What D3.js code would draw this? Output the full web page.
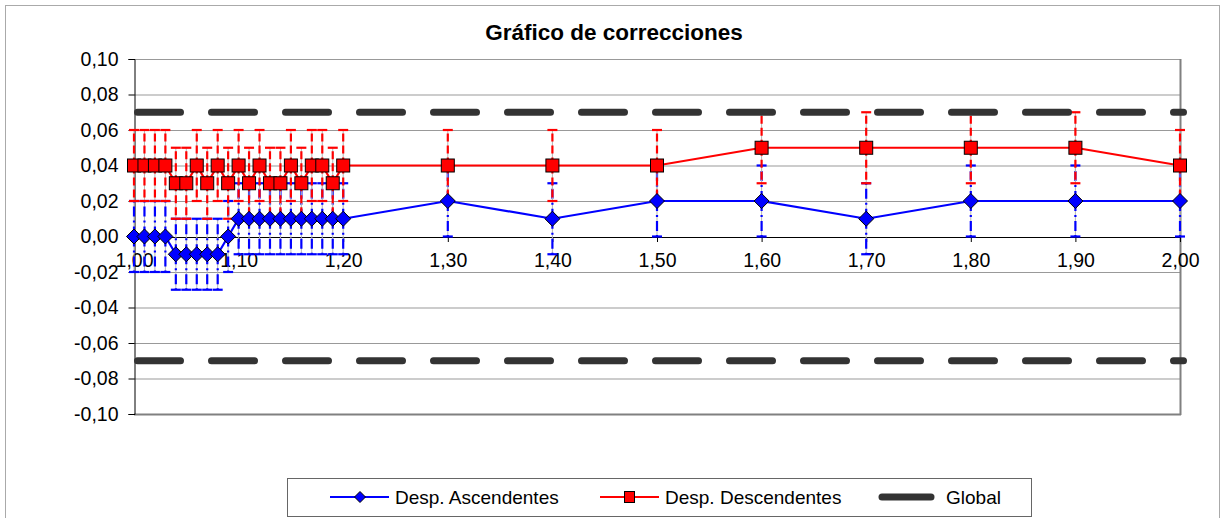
<!DOCTYPE html>
<html><head><meta charset="utf-8">
<script src="https://cdn.jsdelivr.net/npm/d3@7"></script>
<style>body{margin:0;background:#fff;font-family:"Liberation Sans",Arial,sans-serif;}</style>
</head><body><svg id="c" width="1221" height="518"></svg>
<script>
const xValues = [1.00,1.01,1.02,1.03,1.04,1.05,1.06,1.07,1.08,1.09,1.10,1.11,1.12,1.13,1.14,1.15,1.16,1.17,1.18,1.19,1.20,1.30,1.40,1.50,1.60,1.70,1.80,1.90,2.00];
const ascendentes = [0,0,0,0,-0.01,-0.01,-0.01,-0.01,-0.01,0,0.01,0.01,0.01,0.01,0.01,0.01,0.01,0.01,0.01,0.01,0.01,0.02,0.01,0.02,0.02,0.01,0.02,0.02,0.02];
const descendentes = [0.04,0.04,0.04,0.04,0.03,0.03,0.04,0.03,0.04,0.03,0.04,0.03,0.04,0.03,0.03,0.04,0.03,0.04,0.04,0.03,0.04,0.04,0.04,0.04,0.05,0.05,0.05,0.05,0.04];
const errorAmount = [0.02];
const globalX = [1.00, 2.00];
const globalLimits = [0.07, -0.07];
const xTicks = [1.0,1.1,1.2,1.3,1.4,1.5,1.6,1.7,1.8,1.9,2.0];
const yTicks = [-0.10,-0.08,-0.06,-0.04,-0.02,0,0.02,0.04,0.06,0.08,0.10];
const seriesNames = ["Desp. Ascendentes","Desp. Descendentes","Global"];
const title = "Gráfico de correcciones";

const svg = d3.select("#c");
const L=134, R=1180, T=59, B=414;
const x = d3.scaleLinear().domain([1,2]).range([L,R]);
const y = d3.scaleLinear().domain([-0.1,0.1]).range([B,T]);
const fmt = v => d3.format(".2f")(v).replace(".",",").replace("−","-");
const font = "'Liberation Sans', Arial, sans-serif";
const fs = 19.5;

// outer border
svg.append("rect").attr("x",5.5).attr("y",5.5).attr("width",1214).attr("height",520)
  .attr("fill","none").attr("stroke","#aaa").attr("stroke-width",1);

// title
svg.append("text").attr("x",614).attr("y",40).attr("text-anchor","middle")
  .attr("font-family",font).attr("font-weight","bold").attr("font-size",22.5).text(title);

// gridlines
svg.append("g").selectAll("line").data(yTicks.filter(d=>d!==0)).join("line")
  .attr("x1",L).attr("x2",R).attr("y1",d=>y(d)+0.5).attr("y2",d=>y(d)+0.5)
  .attr("stroke","#999").attr("stroke-width",1);
// plot border right & bottom
svg.append("line").attr("x1",R+0.5).attr("x2",R+0.5).attr("y1",T).attr("y2",B+1).attr("stroke","#808080").attr("stroke-width",2);
svg.append("line").attr("x1",L).attr("x2",R+1).attr("y1",B+0.5).attr("y2",B+0.5).attr("stroke","#808080").attr("stroke-width",2);

// y axis
const yAxis = d3.axisLeft(y).tickValues(yTicks).tickFormat(fmt).tickSize(6).tickPadding(10);
const gy = svg.append("g").attr("transform",`translate(${L+0.5},0)`).call(yAxis);
gy.select(".domain").attr("stroke","#000");
gy.selectAll("text").attr("font-family",font).attr("font-size",fs).attr("fill","#000");
// x axis at zero
const xAxis = d3.axisBottom(x).tickValues(xTicks).tickFormat(fmt).tickSize(5).tickPadding(11).tickSizeOuter(0);
const gx = svg.append("g").attr("transform",`translate(0,${y(0)+0.5})`).call(xAxis);
gx.select(".domain").attr("stroke","#000");
gx.selectAll("text").attr("font-family",font).attr("font-size",fs).attr("fill","#000");

const err = errorAmount[0];
function errorBars(vals, color, dash){
  const g = svg.append("g");
  xValues.forEach((xv,i)=>{
    const v = vals[i];
    [v+err, v-err].forEach(end=>{
      g.append("line").attr("x1",x(xv)).attr("x2",x(xv)).attr("y1",y(v)).attr("y2",y(end))
        .attr("stroke","#b5b5b5").attr("stroke-width",1);
      g.append("line").attr("x1",x(xv)).attr("x2",x(xv)).attr("y1",y(v)).attr("y2",y(end))
        .attr("stroke",color).attr("stroke-width",2.2).attr("stroke-dasharray",dash);
      g.append("line").attr("x1",x(xv)-5).attr("x2",x(xv)+5).attr("y1",y(end)).attr("y2",y(end))
        .attr("stroke",color).attr("stroke-width",2.2);
    });
  });
}
errorBars(ascendentes,"#0000ff","10,4,2,4");
errorBars(descendentes,"#ff0000","8,4");

const line = d3.line().x(d=>x(d[0])).y(d=>y(d[1]));
svg.append("path").datum(xValues.map((v,i)=>[v,ascendentes[i]])).attr("d",line)
  .attr("fill","none").attr("stroke","#0000ff").attr("stroke-width",2.2);
svg.append("path").datum(xValues.map((v,i)=>[v,descendentes[i]])).attr("d",line)
  .attr("fill","none").attr("stroke","#ff0000").attr("stroke-width",2.2);

const diamond = (cx,cy,r)=>`M${cx},${cy-r}L${cx+r},${cy}L${cx},${cy+r}L${cx-r},${cy}Z`;
svg.append("g").selectAll("path").data(xValues.map((v,i)=>[v,ascendentes[i]])).join("path")
  .attr("d",d=>diamond(x(d[0]),y(d[1]),7.5)).attr("fill","#0000ff").attr("stroke","#000").attr("stroke-width",1);
svg.append("g").selectAll("rect").data(xValues.map((v,i)=>[v,descendentes[i]])).join("rect")
  .attr("x",d=>x(d[0])-6.5).attr("y",d=>y(d[1])-6.5).attr("width",13).attr("height",13)
  .attr("fill","#ff0000").attr("stroke","#000").attr("stroke-width",1);

// global limits
globalLimits.forEach(lv=>{
  svg.append("path").datum(globalX.map(v=>[v,lv])).attr("d",line)
    .attr("fill","none").attr("stroke","#333").attr("stroke-width",7)
    .attr("stroke-linecap","round").attr("stroke-dasharray","43,31")
    .attr("transform","translate(3.5,0)");
});

// legend
const lg = svg.append("g");
lg.append("rect").attr("x",287.5).attr("y",478.5).attr("width",744).attr("height",38)
  .attr("fill","#fff").attr("stroke","#666").attr("stroke-width",1);
const ly = 497;
const lfs = 19;
lg.append("line").attr("x1",330).attr("x2",389).attr("y1",ly).attr("y2",ly).attr("stroke","#0000ff").attr("stroke-width",2.2);
lg.append("path").attr("d",diamond(360,ly,5.5)).attr("fill","#0000ff").attr("stroke","#000").attr("stroke-width",1);
lg.append("text").attr("x",395).attr("y",ly+7).attr("font-family",font).attr("font-size",lfs).text(seriesNames[0]);
lg.append("line").attr("x1",600).attr("x2",659).attr("y1",ly).attr("y2",ly).attr("stroke","#ff0000").attr("stroke-width",2.2);
lg.append("rect").attr("x",624.5).attr("y",ly-5.5).attr("width",10).attr("height",11).attr("fill","#ff0000").attr("stroke","#000").attr("stroke-width",1);
lg.append("text").attr("x",665).attr("y",ly+7).attr("font-family",font).attr("font-size",lfs).text(seriesNames[1]);
lg.append("line").attr("x1",882).attr("x2",931).attr("y1",ly).attr("y2",ly).attr("stroke","#333").attr("stroke-width",7).attr("stroke-linecap","round");
lg.append("text").attr("x",946).attr("y",ly+7).attr("font-family",font).attr("font-size",lfs).text(seriesNames[2]);
</script></body></html>
